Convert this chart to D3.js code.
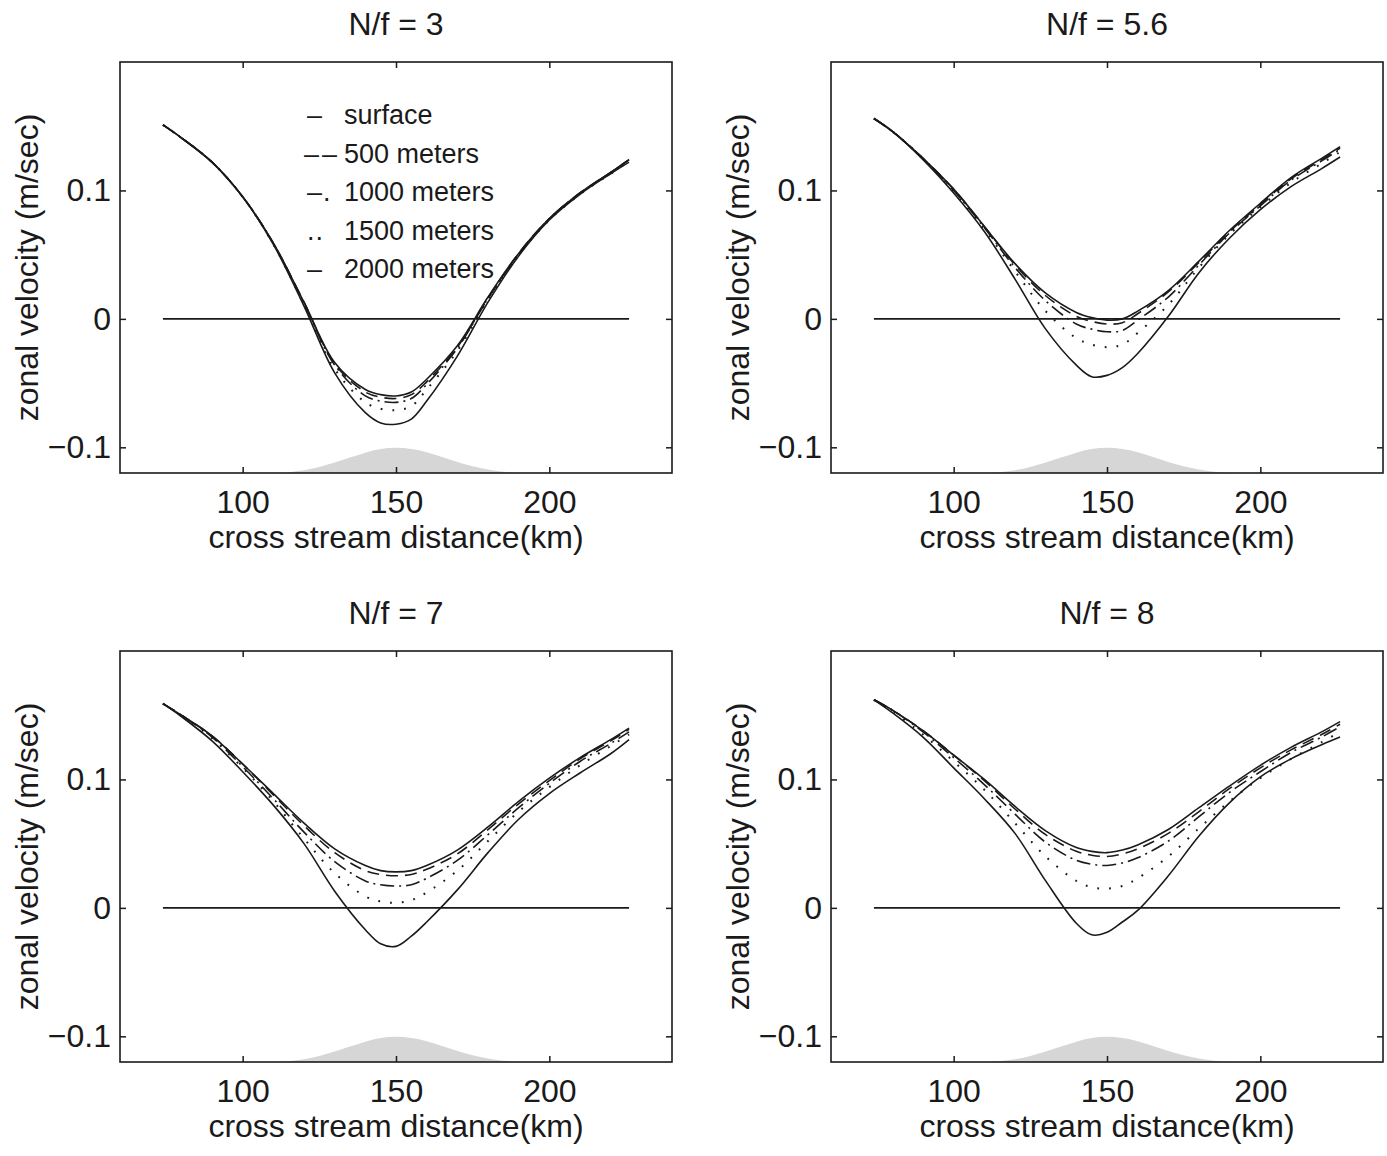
<!DOCTYPE html>
<html>
<head>
<meta charset="utf-8">
<script src="https://cdn.jsdelivr.net/npm/d3@7"></script>
<style>
  body { margin: 0; background: #fff; }
  text { font-family: "Liberation Sans", Arial, Helvetica, sans-serif; fill: #1a1a1a; }
</style>
</head>
<body>
<svg id="fig" width="1387" height="1156"></svg>
<script>
// Cross-stream positions (km) at which each velocity profile is sampled
const distanceKm = [74, 80, 90, 100, 110, 120, 130, 140, 145, 150, 155, 160, 170, 180, 190, 200, 210, 220, 226];

const depthLabels = ["surface", "500 meters", "1000 meters", "1500 meters", "2000 meters"];
const legendMarks = ["–", "––", "–.", "..", "–"];
const panelTitles = ["N/f = 3", "N/f = 5.6", "N/f = 7", "N/f = 8"];

const xTicks = [100, 150, 200];
const yTicks = [-0.1, 0, 0.1];
const yTickLabels = ["−0.1", "0", "0.1"];

// Zonal velocity (m/sec), N/f = 3
const nf3Surface = [0.151, 0.141, 0.122, 0.095, 0.059, 0.013, -0.034, -0.055, -0.059, -0.060, -0.057, -0.047, -0.021, 0.017, 0.051, 0.078, 0.098, 0.114, 0.124];
const nf3M500    = [0.151, 0.141, 0.122, 0.095, 0.059, 0.013, -0.035, -0.057, -0.061, -0.062, -0.059, -0.049, -0.022, 0.016, 0.051, 0.078, 0.098, 0.114, 0.124];
const nf3M1000   = [0.151, 0.141, 0.122, 0.095, 0.059, 0.012, -0.036, -0.060, -0.064, -0.065, -0.062, -0.051, -0.023, 0.016, 0.050, 0.078, 0.098, 0.114, 0.124];
const nf3M1500   = [0.151, 0.141, 0.122, 0.095, 0.058, 0.011, -0.039, -0.065, -0.070, -0.071, -0.068, -0.055, -0.025, 0.015, 0.050, 0.077, 0.097, 0.113, 0.123];
const nf3M2000   = [0.151, 0.141, 0.122, 0.095, 0.058, 0.010, -0.042, -0.073, -0.081, -0.082, -0.078, -0.064, -0.029, 0.013, 0.049, 0.077, 0.097, 0.113, 0.122];

// N/f = 5.6
const nf56Surface = [0.156, 0.146, 0.125, 0.101, 0.072, 0.043, 0.020, 0.005, 0.001, -0.001, 0.000, 0.006, 0.022, 0.045, 0.069, 0.090, 0.110, 0.125, 0.134];
const nf56M500    = [0.156, 0.146, 0.125, 0.101, 0.072, 0.042, 0.018, 0.002, -0.002, -0.004, -0.003, 0.004, 0.021, 0.044, 0.068, 0.089, 0.109, 0.124, 0.133];
const nf56M1000   = [0.156, 0.146, 0.125, 0.100, 0.071, 0.040, 0.014, -0.004, -0.008, -0.010, -0.009, -0.001, 0.017, 0.042, 0.067, 0.088, 0.108, 0.123, 0.132];
const nf56M1500   = [0.156, 0.146, 0.125, 0.099, 0.070, 0.037, 0.006, -0.015, -0.020, -0.022, -0.020, -0.011, 0.011, 0.040, 0.066, 0.087, 0.106, 0.121, 0.130];
const nf56M2000   = [0.156, 0.146, 0.124, 0.098, 0.068, 0.031, -0.008, -0.036, -0.045, -0.044, -0.038, -0.027, 0.002, 0.036, 0.063, 0.085, 0.103, 0.117, 0.126];

// N/f = 7
const nf7Surface = [0.159, 0.150, 0.134, 0.112, 0.089, 0.066, 0.046, 0.033, 0.029, 0.028, 0.029, 0.033, 0.045, 0.063, 0.083, 0.101, 0.117, 0.131, 0.140];
const nf7M500    = [0.159, 0.150, 0.134, 0.112, 0.088, 0.064, 0.043, 0.029, 0.026, 0.025, 0.026, 0.030, 0.042, 0.061, 0.081, 0.099, 0.116, 0.130, 0.139];
const nf7M1000   = [0.159, 0.150, 0.133, 0.110, 0.085, 0.059, 0.036, 0.021, 0.018, 0.017, 0.018, 0.023, 0.037, 0.057, 0.078, 0.097, 0.114, 0.128, 0.137];
const nf7M1500   = [0.159, 0.150, 0.132, 0.109, 0.083, 0.054, 0.027, 0.009, 0.005, 0.004, 0.006, 0.012, 0.029, 0.052, 0.075, 0.094, 0.111, 0.126, 0.135];
const nf7M2000   = [0.159, 0.149, 0.130, 0.106, 0.080, 0.050, 0.013, -0.017, -0.028, -0.030, -0.022, -0.011, 0.014, 0.043, 0.069, 0.089, 0.105, 0.120, 0.131];

// N/f = 8
const nf8Surface = [0.162, 0.154, 0.138, 0.119, 0.100, 0.079, 0.060, 0.047, 0.044, 0.043, 0.045, 0.049, 0.061, 0.078, 0.095, 0.111, 0.125, 0.137, 0.145];
const nf8M500    = [0.162, 0.154, 0.138, 0.119, 0.099, 0.077, 0.057, 0.044, 0.041, 0.040, 0.042, 0.046, 0.058, 0.075, 0.093, 0.109, 0.123, 0.135, 0.143];
const nf8M1000   = [0.162, 0.154, 0.137, 0.117, 0.096, 0.073, 0.051, 0.037, 0.034, 0.033, 0.035, 0.039, 0.052, 0.071, 0.090, 0.106, 0.121, 0.133, 0.141];
const nf8M1500   = [0.162, 0.153, 0.135, 0.114, 0.092, 0.066, 0.040, 0.021, 0.016, 0.015, 0.017, 0.023, 0.040, 0.062, 0.083, 0.101, 0.116, 0.129, 0.137];
const nf8M2000   = [0.162, 0.152, 0.133, 0.109, 0.085, 0.058, 0.021, -0.012, -0.021, -0.019, -0.011, -0.002, 0.025, 0.056, 0.082, 0.102, 0.116, 0.127, 0.133];

// Bottom ridge sketch, drawn in the velocity-axis units along the lower edge
const ridgeKm  = [110, 115, 120, 125, 130, 135, 140, 145, 150, 155, 160, 165, 170, 175, 180, 185, 190];
const ridgeTop = [-0.1200, -0.1195, -0.1180, -0.1155, -0.1120, -0.1080, -0.1040, -0.1010, -0.1000, -0.1010, -0.1035, -0.1075, -0.1115, -0.1150, -0.1175, -0.1192, -0.1200];

const panelSeries = [
  [nf3Surface, nf3M500, nf3M1000, nf3M1500, nf3M2000],
  [nf56Surface, nf56M500, nf56M1000, nf56M1500, nf56M2000],
  [nf7Surface, nf7M500, nf7M1000, nf7M1500, nf7M2000],
  [nf8Surface, nf8M500, nf8M1000, nf8M1500, nf8M2000]
];

// Line styles per depth: solid, dashed, dash-dot, dotted, solid
const dashes = [null, "12,7", "14,5,2,5", "1.8,10", null];

const frames = [
  { x0: 120, y0: 62 }, { x0: 831, y0: 62 },
  { x0: 120, y0: 651 }, { x0: 831, y0: 651 }
];
const W = 552, H = 411;
const ink = "#1a1a1a";

const svg = d3.select("#fig");

frames.forEach((f, p) => {
  const g = svg.append("g").attr("transform", `translate(${f.x0},${f.y0})`);
  const x = d3.scaleLinear().domain([60, 240]).range([0, W]);
  const y = d3.scaleLinear().domain([-0.12, 0.2]).range([H, 0]);

  // ridge shading
  const area = d3.area().x((d, i) => x(ridgeKm[i])).y0(y(-0.12)).y1(d => y(d)).curve(d3.curveBasis);
  g.append("path").datum(ridgeTop).attr("d", area).attr("fill", "#d6d6d6");

  // zero reference line
  const extent = d3.extent(distanceKm);
  g.append("line")
    .attr("x1", x(extent[0])).attr("x2", x(extent[1]))
    .attr("y1", y(0)).attr("y2", y(0))
    .attr("stroke", ink).attr("stroke-width", 1.6);

  // velocity profiles
  const line = d3.line().x((d, i) => x(distanceKm[i])).y(d => y(d)).curve(d3.curveCatmullRom.alpha(0.5));
  panelSeries[p].forEach((s, k) => {
    g.append("path").datum(s).attr("d", line)
      .attr("fill", "none").attr("stroke", ink)
      .attr("stroke-width", k === 3 ? 2 : 1.6)
      .attr("stroke-dasharray", dashes[k]);
  });

  // box
  g.append("rect").attr("width", W).attr("height", H)
    .attr("fill", "none").attr("stroke", ink).attr("stroke-width", 1.6);

  // axes with inward ticks
  g.append("g").attr("transform", `translate(0,${H})`)
    .call(d3.axisBottom(x).tickValues(xTicks).tickSize(-6).tickPadding(17).tickFormat(d3.format("d")));
  g.append("g")
    .call(d3.axisLeft(y).tickValues(yTicks).tickSize(-6).tickPadding(9).tickFormat((d, i) => yTickLabels[i]));
  g.append("g").call(d3.axisTop(x).tickValues(xTicks).tickSize(-6).tickFormat(""));
  g.append("g").attr("transform", `translate(${W},0)`)
    .call(d3.axisRight(y).tickValues(yTicks).tickSize(-6).tickFormat(""));
  g.selectAll(".domain").remove();
  g.selectAll(".tick line").attr("stroke", ink).attr("stroke-width", 1.5);
  g.selectAll(".tick text").attr("font-size", 32).attr("font-family", null).style("fill", ink);

  // title and axis labels
  g.append("text").attr("x", W / 2).attr("y", -27).attr("text-anchor", "middle")
    .attr("font-size", 32).text(panelTitles[p]);
  g.append("text").attr("x", W / 2).attr("y", H + 75).attr("text-anchor", "middle")
    .attr("font-size", 32).text("cross stream distance(km)");
  g.append("text")
    .attr("transform", `translate(-93,${H / 2}) rotate(-90)`)
    .attr("text-anchor", "middle").attr("dominant-baseline", "central")
    .attr("font-size", 32).text("zonal velocity (m/sec)");

  // legend in the first panel
  if (p === 0) {
    const lg = g.append("g").attr("transform", "translate(185,52)");
    depthLabels.forEach((lab, i) => {
      const yy = i * 38.6 + 10;
      lg.append("text").attr("x", i === 1 ? -1 : 2).attr("y", yy).attr("font-size", 27)
        .attr("letter-spacing", i === 1 ? 3 : 1).text(legendMarks[i]);
      lg.append("text").attr("x", 39).attr("y", yy).attr("font-size", 27).text(lab);
    });
  }
});
</script>
</body>
</html>
